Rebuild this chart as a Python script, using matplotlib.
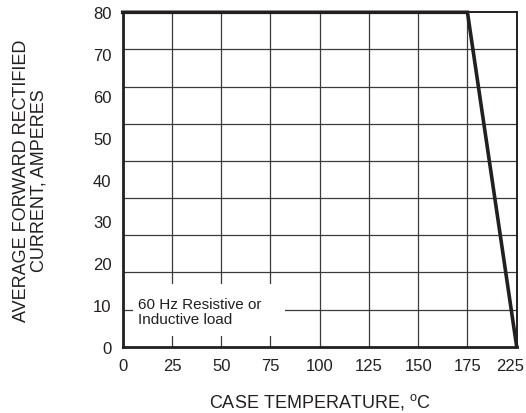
import numpy as np
import matplotlib
matplotlib.use("Agg")
import matplotlib.pyplot as plt
import matplotlib.transforms as mtransforms
from matplotlib.patches import Rectangle

plt.rcParams['font.family'] = ['Liberation Sans', 'DejaVu Sans']
plt.rcParams['mathtext.fontset'] = 'custom'
plt.rcParams['mathtext.rm'] = 'Liberation Sans'

# --- Derating curve ---
case_temp = [0, 175, 225]        # deg C
avg_current = [80, 80, 0]        # A

x_ticks = [0, 25, 50, 75, 100, 125, 150, 175, 225]
x_tick_labels = ['0', '25', '50', '75', '100', '125', '150', '175', '225']
y_ticks = [0, 10, 20, 30, 40, 50, 60, 70, 80]
note_text = '60 Hz Resistive or\nInductive load'

ink = '#231f20'
grid_col = '#3a3a3a'


# axis above 175 deg C is drawn at half scale in the original sheet
def fwd(x):
    x = np.asarray(x, dtype=float)
    return np.where(x <= 175, x, 175 + (x - 175) * 0.5)


def inv(d):
    d = np.asarray(d, dtype=float)
    return np.where(d <= 175, d, 175 + (d - 175) * 2.0)


fig = plt.figure(figsize=(5.26, 4.14), dpi=100)
ax = fig.add_axes([0.2333, 0.1601, 0.7490, 0.8078])

ax.set_xscale('function', functions=(fwd, inv))
ax.set_xlim(0, 225)
ax.set_ylim(0, 80)

ax.plot(case_temp, avg_current, color=ink, lw=2.6, solid_joinstyle='miter',
        clip_on=False, zorder=5)

# grid: vertical at the x ticks, horizontal in nine equal rows
ax.set_xticks(x_ticks)
ax.set_xticklabels(x_tick_labels)
ax.set_yticks(y_ticks)
ax.set_yticks(np.linspace(0, 80, 10)[1:-1], minor=True)
ax.grid(True, axis='x', which='major', color=grid_col, lw=0.9)
ax.grid(True, axis='y', which='minor', color=grid_col, lw=0.9)
ax.tick_params(which='both', length=0, labelsize=12, colors='#231f20')
ax.tick_params(axis='x', pad=8)
ax.tick_params(axis='y', pad=8)

# nudge the last x label in so it stays on the page
lbl = ax.get_xticklabels()[-1]
lbl.set_transform(lbl.get_transform() +
                  mtransforms.ScaledTranslation(-7 / 100, 0, fig.dpi_scale_trans))

for side in ['left', 'bottom']:
    ax.spines[side].set_linewidth(2.0)
for side in ['top', 'right']:
    ax.spines[side].set_linewidth(1.4)
for s in ax.spines.values():
    s.set_color(ink)

# white box behind the note hides the grid
ax.add_patch(Rectangle((0.026, 0.032), 0.386, 0.155, transform=ax.transAxes,
                       facecolor='white', edgecolor='none', zorder=3))
ax.text(0.038, 0.105, note_text, transform=ax.transAxes, fontsize=11,
        color=ink, va='center', ha='left', linespacing=1.15, zorder=4)

ax.set_xlabel(r'CASE TEMPERATURE, $^{\mathrm{o}}$C', fontsize=13, color=ink)
ax.xaxis.set_label_coords(0.5, -0.132)
ax.set_ylabel('AVERAGE FORWARD RECTIFIED\nCURRENT, AMPERES', fontsize=13,
              color=ink, linespacing=1.1)
ax.yaxis.set_label_coords(-0.19, 0.5)

fig.savefig('out.png', dpi=100)
